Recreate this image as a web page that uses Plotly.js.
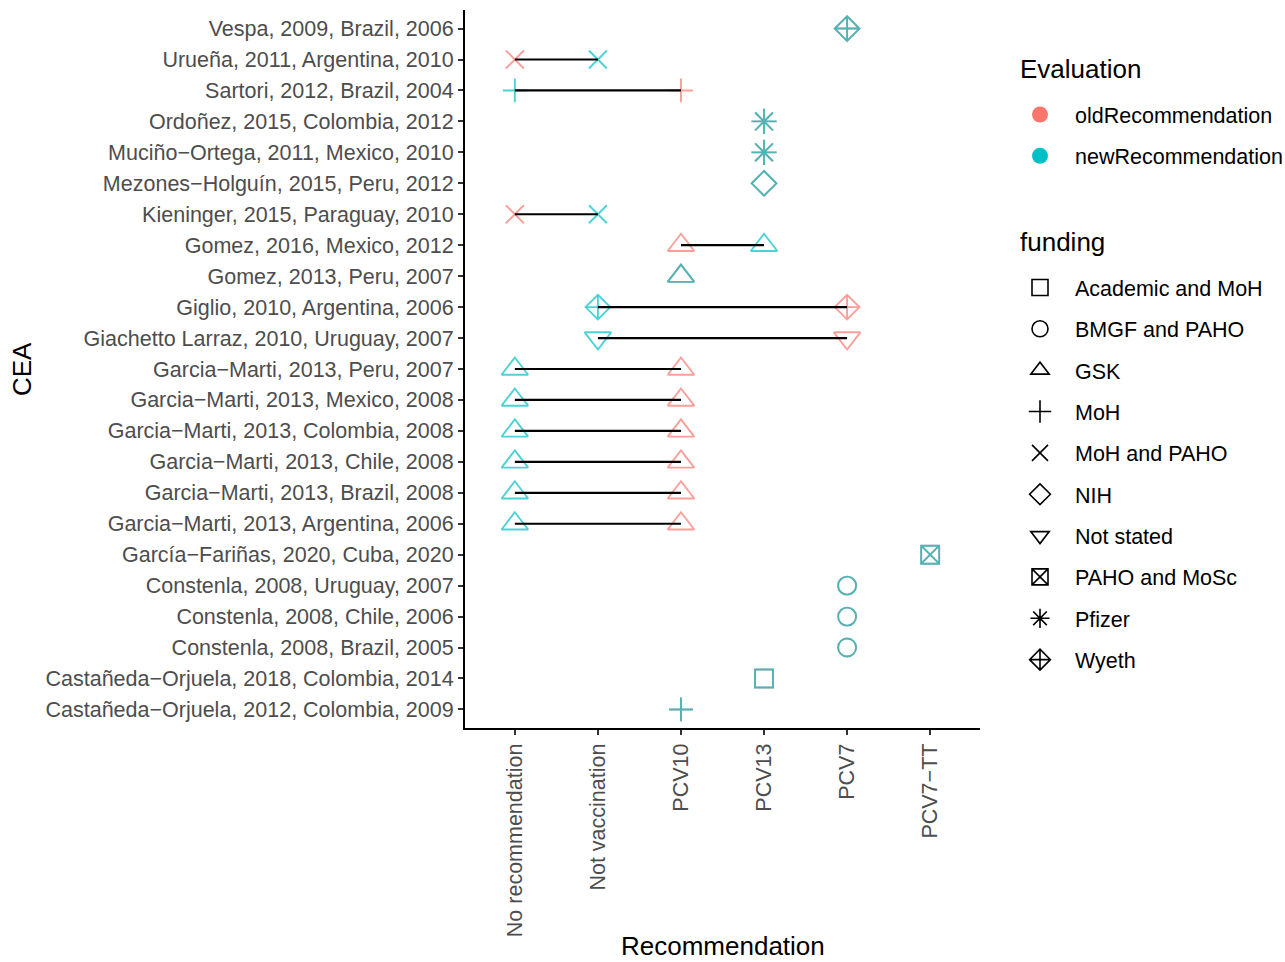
<!DOCTYPE html>
<html><head><meta charset="utf-8">
<script src="https://cdn.plot.ly/plotly-3.0.1.min.js"></script>
<style>html,body{margin:0;padding:0;background:#fff}</style>
</head><body><div id="chart" style="width:1285px;height:962px"></div>
<script>
// Studies, top to bottom as shown
const studies = [
  "Vespa, 2009, Brazil, 2006",
  "Urueña, 2011, Argentina, 2010",
  "Sartori, 2012, Brazil, 2004",
  "Ordoñez, 2015, Colombia, 2012",
  "Muciño−Ortega, 2011, Mexico, 2010",
  "Mezones−Holguín, 2015, Peru, 2012",
  "Kieninger, 2015, Paraguay, 2010",
  "Gomez, 2016, Mexico, 2012",
  "Gomez, 2013, Peru, 2007",
  "Giglio, 2010, Argentina, 2006",
  "Giachetto Larraz, 2010, Uruguay, 2007",
  "Garcia−Marti, 2013, Peru, 2007",
  "Garcia−Marti, 2013, Mexico, 2008",
  "Garcia−Marti, 2013, Colombia, 2008",
  "Garcia−Marti, 2013, Chile, 2008",
  "Garcia−Marti, 2013, Brazil, 2008",
  "Garcia−Marti, 2013, Argentina, 2006",
  "García−Fariñas, 2020, Cuba, 2020",
  "Constenla, 2008, Uruguay, 2007",
  "Constenla, 2008, Chile, 2006",
  "Constenla, 2008, Brazil, 2005",
  "Castañeda−Orjuela, 2018, Colombia, 2014",
  "Castañeda−Orjuela, 2012, Colombia, 2009"
];
const oldRecommendation = [
  "PCV7","No recommendation","PCV10","PCV13","PCV13","PCV13","No recommendation",
  "PCV10","PCV10","PCV7","PCV7",
  "PCV10","PCV10","PCV10","PCV10","PCV10","PCV10",
  "PCV7−TT","PCV7","PCV7","PCV7","PCV13","PCV10"
];
const newRecommendation = [
  "PCV7","Not vaccination","No recommendation","PCV13","PCV13","PCV13","Not vaccination",
  "PCV13","PCV10","Not vaccination","Not vaccination",
  "No recommendation","No recommendation","No recommendation","No recommendation","No recommendation","No recommendation",
  "PCV7−TT","PCV7","PCV7","PCV7","PCV13","PCV10"
];
const funding = [
  "Wyeth","MoH and PAHO","MoH","Pfizer","Pfizer","NIH","MoH and PAHO",
  "GSK","GSK","Wyeth","Not stated",
  "GSK","GSK","GSK","GSK","GSK","GSK",
  "PAHO and MoSc","BMGF and PAHO","BMGF and PAHO","BMGF and PAHO","Academic and MoH","MoH"
];
const recommendationCategories = ["No recommendation","Not vaccination","PCV10","PCV13","PCV7","PCV7−TT"];
const fundingLevels = ["Academic and MoH","BMGF and PAHO","GSK","MoH","MoH and PAHO","NIH","Not stated","PAHO and MoSc","Pfizer","Wyeth"];
const evaluationLevels = ["oldRecommendation","newRecommendation"];

// styling
const evalColors = {oldRecommendation:"#F8766D", newRecommendation:"#00BFC4"};
const symbolOf = {
  "Academic and MoH":"square-open","BMGF and PAHO":"circle-open","GSK":"triangle-up-open",
  "MoH":"cross-thin-open","MoH and PAHO":"x-thin-open","NIH":"diamond-open",
  "Not stated":"triangle-down-open","PAHO and MoSc":"square-x-open","Pfizer":"asterisk-open",
  "Wyeth":"diamond-cross-open"
};
const sizeOf = {
  "Academic and MoH":18,"BMGF and PAHO":18,"GSK":23,"MoH":17,"MoH and PAHO":18,"NIH":19,
  "Not stated":23,"PAHO and MoSc":18,"Pfizer":21,"Wyeth":19
};
const FONT = "Liberation Sans, Arial, Helvetica, sans-serif";
const TXT = 21.5, TITLE = 26;

const traces = [];
function pointTrace(name, recs){
  return {
    type:"scatter", mode:"markers", x:recs, y:studies, showlegend:false, hoverinfo:"x+y",
    marker:{symbol:funding.map(f=>symbolOf[f]), size:funding.map(f=>sizeOf[f]),
      color:evalColors[name], line:{color:evalColors[name], width:1.9}}
  };
}
traces.push(pointTrace("oldRecommendation", oldRecommendation));
traces.push(pointTrace("newRecommendation", newRecommendation));

const segX = [], segY = [];
studies.forEach((s,i)=>{ segX.push(oldRecommendation[i], newRecommendation[i], null); segY.push(s, s, null); });
traces.push({type:"scatter", mode:"lines", x:segX, y:segY, showlegend:false, hoverinfo:"skip",
  line:{color:"#000", width:2.2}});

// legend entries
evaluationLevels.forEach(ev=>{
  traces.push({type:"scatter", mode:"markers", x:[null], y:[null], name:ev, legend:"legend",
    legendgroup:ev, marker:{symbol:"circle", size:18, color:evalColors[ev]}});
});
fundingLevels.forEach(f=>{
  traces.push({type:"scatter", mode:"markers", x:[null], y:[null], name:f, legend:"legend2",
    legendgroup:f, marker:{symbol:symbolOf[f], size:16, color:"#000", line:{color:"#000", width:1.6}}});
});

const px2x = px => (px-465)/515;
const py2y = py => (728-py)/718;
const layout = {
  width:1285, height:962,
  margin:{l:465, r:305, t:10, b:234, pad:0},
  paper_bgcolor:"#fff", plot_bgcolor:"#fff",
  font:{family:FONT, color:"#000"},
  xaxis:{type:"category", categoryorder:"array", categoryarray:recommendationCategories,
    range:[-0.6, recommendationCategories.length-0.4], showgrid:false, zeroline:false,
    showline:true, linecolor:"#000", linewidth:2, ticks:"outside", ticklen:5, tickwidth:2, tickcolor:"#333",
    tickangle:-90, tickfont:{size:TXT, color:"#4D4D4D", family:FONT}},
  yaxis:{type:"category", categoryorder:"array", categoryarray:studies.slice().reverse(),
    range:[-0.6, studies.length-0.4], showgrid:false, zeroline:false,
    showline:true, linecolor:"#000", linewidth:2, ticks:"outside", ticklen:5, tickwidth:2, tickcolor:"#333",
    tickfont:{size:TXT, color:"#4D4D4D", family:FONT}},
  annotations:[
    {text:"CEA", xref:"paper", yref:"paper", x:px2x(22), y:0.5, textangle:-90,
      showarrow:false, font:{size:TITLE, color:"#000", family:FONT}, xanchor:"center", yanchor:"middle"},
    {text:"Recommendation", xref:"paper", yref:"paper", x:0.5, y:py2y(963),
      showarrow:false, font:{size:TITLE, color:"#000", family:FONT}, xanchor:"center", yanchor:"bottom"},
    {text:"Evaluation", xref:"paper", yref:"paper", x:px2x(1018), y:py2y(69),
      showarrow:false, font:{size:TITLE, color:"#000", family:FONT}, xanchor:"left", yanchor:"middle"},
    {text:"funding", xref:"paper", yref:"paper", x:px2x(1018), y:py2y(242),
      showarrow:false, font:{size:TITLE, color:"#000", family:FONT}, xanchor:"left", yanchor:"middle"}
  ],
  legend:{xref:"container", yref:"container", x:1005/1285, y:1-94/962, xanchor:"left", yanchor:"top",
    font:{size:TXT, family:FONT, color:"#000"}, tracegroupgap:10.4, traceorder:"grouped",
    itemwidth:60, bgcolor:"rgba(0,0,0,0)"},
  legend2:{xref:"container", yref:"container", x:1005/1285, y:1-267/962, xanchor:"left", yanchor:"top",
    font:{size:TXT, family:FONT, color:"#000"}, tracegroupgap:10.4, traceorder:"grouped",
    itemwidth:60, bgcolor:"rgba(0,0,0,0)"}
};
Plotly.newPlot("chart", traces, layout, {displayModeBar:false, staticPlot:true});
</script></body></html>
